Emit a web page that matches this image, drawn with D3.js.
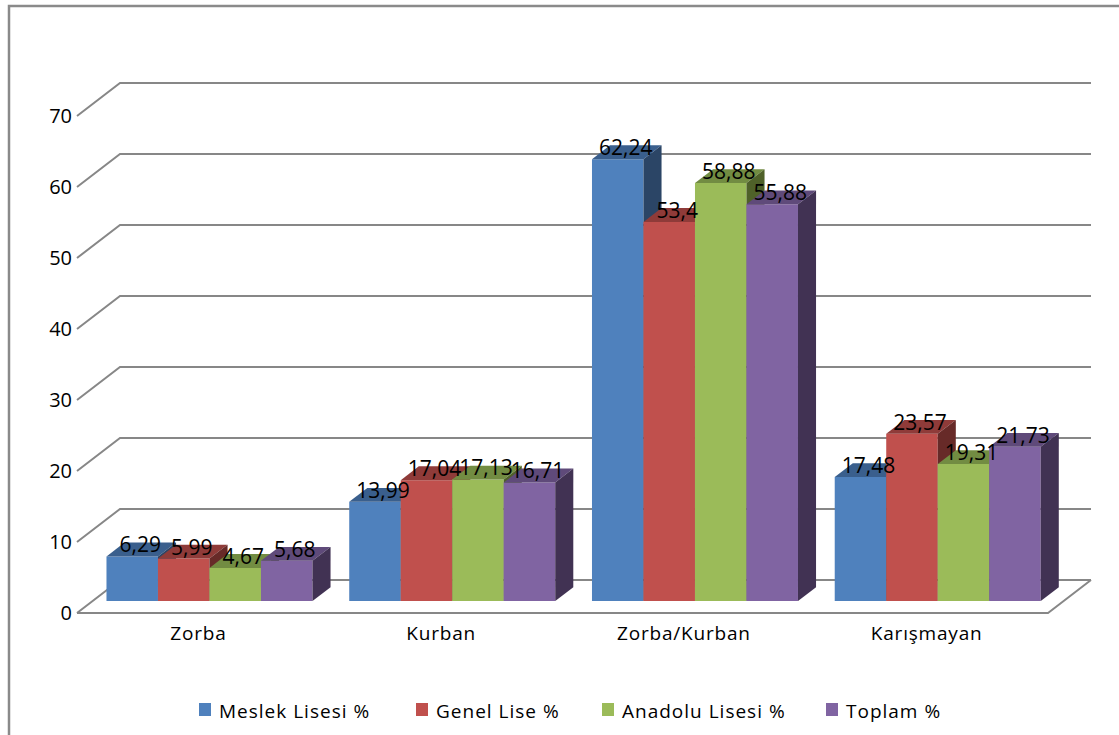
<!DOCTYPE html>
<html lang="tr">
    <head>
        <meta charset="UTF-8">
        <script src="https://unpkg.com/d3@7/dist/d3.min.js"></script>
        <title>Zorbalık</title>
        <style>
            body { margin: 0; background: #fff; }
            text { font-family: "Open Sans", sans-serif; fill: #000; }
        </style>
    </head>
    <body>
        <script type="text/javascript">
            // Data
            var categories = ["Zorba", "Kurban", "Zorba/Kurban", "Karışmayan"];
            var seriesNames = ["Meslek Lisesi %", "Genel Lise %", "Anadolu Lisesi %", "Toplam %"];
            var meslek = [6.29, 13.99, 62.24, 17.48];
            var genel = [5.99, 17.04, 53.4, 23.57];
            var anadolu = [4.67, 17.13, 58.88, 19.31];
            var toplam = [5.68, 16.71, 55.88, 21.73];
            var yTicks = [0, 10, 20, 30, 40, 50, 60, 70];

            var seriesValues = [meslek, genel, anadolu, toplam];
            var frontColors = ["#4f81bd", "#c0504d", "#9bbb59", "#8064a2"];
            var topColors = ["#3a5f8d", "#8f3b39", "#728c42", "#5f4a7a"];
            var sideColors = ["#2b4566", "#672a28", "#4f6129", "#413253"];

            var W = 1119, H = 735;
            var svg = d3.select("body").append("svg")
                .attr("width", W).attr("height", H);

            // chart frame
            svg.append("rect")
                .attr("x", 9).attr("y", 6)
                .attr("width", W + 20).attr("height", H + 20)
                .attr("fill", "none")
                .attr("stroke", "#8a8a8a")
                .attr("stroke-width", 2.5);

            // 3D layout: floor front edge and depth offset
            var x0 = 77, x1 = 1048, yFront = 613;
            var depthX = 43, depthY = 33;

            var y = d3.scaleLinear().domain([0, 70]).range([0, 497]);
            var xBand = d3.scaleBand().domain(categories).range([x0, x1]);
            var xInner = d3.scaleBand().domain(d3.range(4)).range([14, 220]);

            // project (x on front plane, value, depth fraction)
            function px(x, z) { return x + z * depthX; }
            function py(v, z) { return yFront - y(v) - z * depthY; }

            var grid = svg.append("g")
                .attr("stroke", "#878787")
                .attr("stroke-width", 2)
                .attr("fill", "none");

            // back wall gridlines and left side diagonals
            yTicks.forEach(function(t) {
                grid.append("path")
                    .attr("d", "M" + px(x0, 0) + "," + py(t, 0) +
                        "L" + px(x0, 1) + "," + py(t, 1) +
                        "L" + px(x1, 1) + "," + py(t, 1));
            });

            // floor
            grid.append("path")
                .attr("d", "M" + px(x0, 0) + "," + py(0, 0) +
                    "L" + px(x1, 0) + "," + py(0, 0) +
                    "L" + px(x1, 1) + "," + py(0, 1));

            // y tick labels
            svg.append("g").selectAll("text")
                .data(yTicks)
                .enter()
                .append("text")
                .attr("x", 72)
                .attr("y", function(d) { return py(d, 0); })
                .attr("dy", "0.36em")
                .attr("text-anchor", "end")
                .style("font-size", "20px")
                .text(function(d) { return d; });

            // bars
            var z1 = 0.36, z2 = 0.78;
            var bars = [];
            categories.forEach(function(c, ci) {
                seriesValues.forEach(function(vals, si) {
                    bars.push({ cat: c, s: si, v: vals[ci] });
                });
            });

            var barG = svg.append("g");
            bars.forEach(function(b) {
                var xl = xBand(b.cat) + xInner(b.s);
                var xr = xl + xInner.bandwidth();
                var g = barG.append("g");
                // front
                g.append("path")
                    .attr("fill", frontColors[b.s])
                    .attr("d", "M" + px(xl, z1) + "," + py(0, z1) +
                        "L" + px(xr, z1) + "," + py(0, z1) +
                        "L" + px(xr, z1) + "," + py(b.v, z1) +
                        "L" + px(xl, z1) + "," + py(b.v, z1) + "Z");
                // top
                g.append("path")
                    .attr("fill", topColors[b.s])
                    .attr("d", "M" + px(xl, z1) + "," + py(b.v, z1) +
                        "L" + px(xr, z1) + "," + py(b.v, z1) +
                        "L" + px(xr, z2) + "," + py(b.v, z2) +
                        "L" + px(xl, z2) + "," + py(b.v, z2) + "Z");
                // side
                g.append("path")
                    .attr("fill", sideColors[b.s])
                    .attr("d", "M" + px(xr, z1) + "," + py(0, z1) +
                        "L" + px(xr, z2) + "," + py(0, z2) +
                        "L" + px(xr, z2) + "," + py(b.v, z2) +
                        "L" + px(xr, z1) + "," + py(b.v, z1) + "Z");
            });

            // value labels
            svg.append("g").selectAll("text")
                .data(bars)
                .enter()
                .append("text")
                .attr("x", function(d) {
                    return px(xBand(d.cat) + xInner(d.s) + xInner.bandwidth() / 2, z1) + 8;
                })
                .attr("y", function(d) { return py(d.v, z1) - 4; })
                .attr("text-anchor", "middle")
                .style("font-size", "21px")
                .text(function(d) { return String(d.v).replace(".", ","); });

            // category labels
            svg.append("g").selectAll("text")
                .data(categories)
                .enter()
                .append("text")
                .attr("x", function(d) { return xBand(d) + xBand.bandwidth() / 2; })
                .attr("y", 640)
                .attr("text-anchor", "middle")
                .style("font-size", "19px")
                .style("letter-spacing", "0.8px")
                .text(function(d) { return d; });

            // legend
            var legendX = [199, 416, 602, 826];
            var legend = svg.append("g").selectAll("g")
                .data(seriesNames)
                .enter()
                .append("g")
                .attr("transform", function(d, i) { return "translate(" + legendX[i] + ",703)"; });
            legend.append("rect")
                .attr("width", 12).attr("height", 13)
                .attr("fill", function(d, i) { return frontColors[i]; });
            legend.append("text")
                .attr("x", 20).attr("y", 15)
                .style("font-size", "19px")
                .style("letter-spacing", "1px")
                .text(function(d) { return d; });
        </script>
    </body>
</html>
